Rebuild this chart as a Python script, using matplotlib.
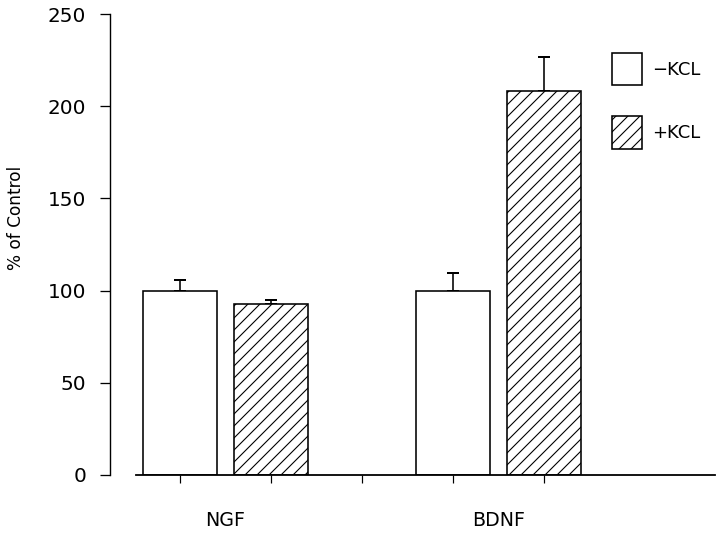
import matplotlib
matplotlib.use("Agg")
import matplotlib.pyplot as plt
import numpy as np

groups = ["NGF", "BDNF"]
series = ["\u2212KCL", "+KCL"]
minus_kcl = [100, 100]
minus_err = [5.5, 9.5]
plus_kcl = [92.6, 208]
plus_err = [2.3, 18.5]
yticks = [0, 50, 100, 150, 200, 250]

plt.rcParams['hatch.linewidth'] = 1.1
plt.rcParams['font.family'] = ['DejaVu Sans']

fig = plt.figure(figsize=(10, 534 / 72), dpi=72)
ax = fig.add_axes([110 / 720, 59 / 534, 610 / 720, 461 / 534])

pos_minus = np.array([1, 4])
pos_plus = np.array([2, 5])
width = 0.81

ax.bar(pos_minus, minus_kcl, width, color="white", edgecolor="black",
       linewidth=1.6, label=series[0], zorder=2)
ax.bar(pos_plus, plus_kcl, width, color="white", edgecolor="black",
       linewidth=1.6, hatch="//", label=series[1], zorder=2)
ax.errorbar(pos_minus, minus_kcl, yerr=[np.zeros(2), minus_err], fmt="none",
            ecolor="black", elinewidth=1.6, capsize=6, capthick=2, zorder=1)
ax.errorbar(pos_plus, plus_kcl, yerr=[np.zeros(2), plus_err], fmt="none",
            ecolor="black", elinewidth=1.6, capsize=6, capthick=2, zorder=1)

ax.set_xlim(0.231, 6.934)
ax.set_ylim(0, 250)
ax.set_yticks(yticks)
ax.set_yticklabels([str(v) for v in yticks], fontsize=20)
ax.tick_params(axis="y", length=10, width=1.3, pad=14, direction="out")

ax.set_xticks([1, 2, 3, 4, 5])
ax.set_xticklabels([])
ax.tick_params(axis="x", which="major", length=8, width=1.2, direction="out")
ax.set_xticks([1.5, 4.5], minor=True)
ax.set_xticklabels(groups, minor=True, fontsize=19)
ax.tick_params(axis="x", which="minor", length=0, pad=36)

for s in ["top", "right"]:
    ax.spines[s].set_visible(False)
ax.spines["left"].set_linewidth(1.4)
ax.spines["bottom"].set_linewidth(1.8)
ax.spines["bottom"].set_bounds(0.516, 6.88)

ax.set_ylabel("% of Control", fontsize=17)
ax.yaxis.set_label_coords(-0.139, 0.557)

leg = ax.legend(loc="upper left", bbox_to_anchor=(612 / 720, 1 - 53 / 534),
                bbox_transform=fig.transFigure, frameon=False, fontsize=18,
                handlelength=1.67, handleheight=2.4, handletextpad=0.55,
                labelspacing=1.72, borderpad=0, borderaxespad=0)

fig.savefig("out.png", dpi=72)
